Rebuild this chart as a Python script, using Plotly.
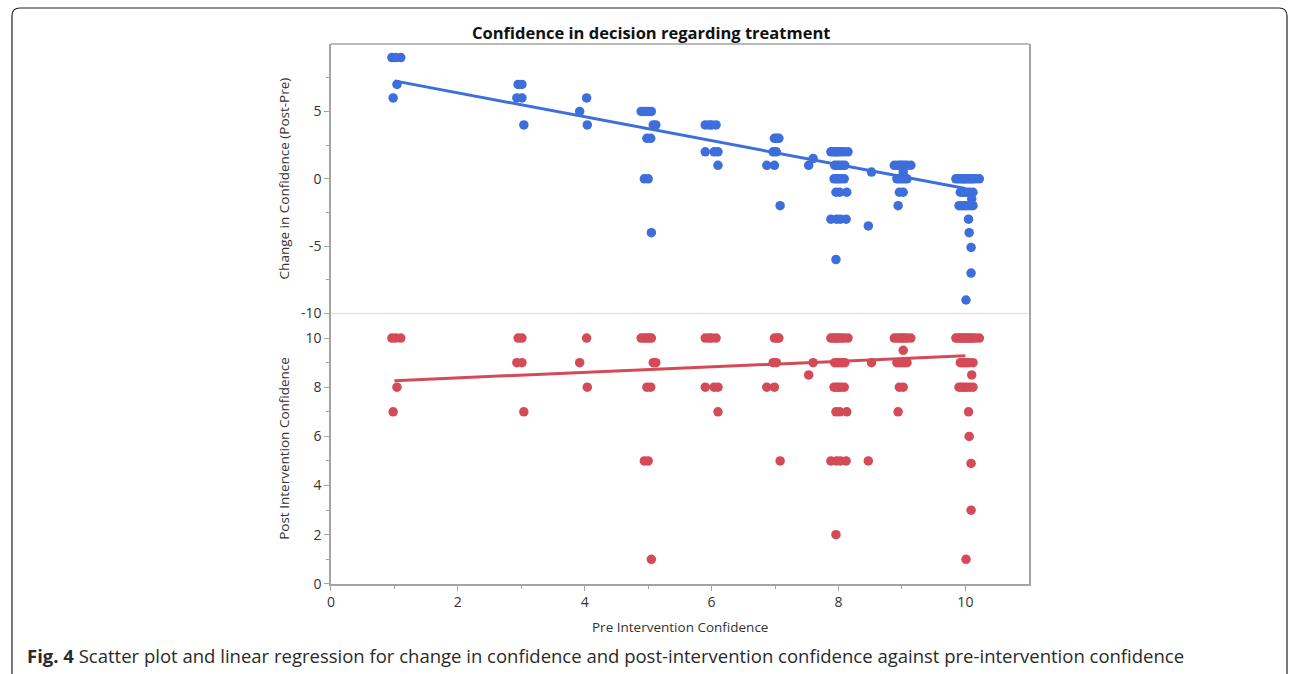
import numpy as np
import plotly.graph_objects as go

# ---- data (one entry per visible marker) ----
pre = ([1]*5 + [3]*5 + [4]*3 + [5]*12 + [6]*8 + [7]*8 + [7.5]*2 +
       [8]*26 + [8.5]*2 + [9]*16 + [10]*30)
post = ([10, 10, 10, 8, 7] +
        [10, 10, 9, 9, 7] +
        [9, 10, 8] +
        [10, 10, 10, 10, 10, 9, 9, 8, 8, 5, 5, 1] +
        [10, 10, 10, 10, 8, 8, 8, 7] +
        [10, 10, 10, 9, 9, 8, 8, 5] +
        [9, 8.5] +
        [10]*8 + [9]*5 + [8]*5 + [7]*3 + [5]*4 + [2] +
        [9, 5] +
        [10]*7 + [9.5] + [9]*5 + [8]*2 + [7] +
        [10]*12 + [9]*6 + [8.5] + [8]*6 + [7, 6, 4.9, 3, 1])
# respondents hidden under each marker (overlapping points in the dense clusters)
count = ([1]*5 + [1]*5 + [1]*3 + [1]*12 + [1]*8 + [1]*8 + [1]*2 +
         [3, 3, 3, 3, 3, 3, 3, 2] + [1]*18 +
         [1]*2 +
         [6, 6, 6, 6, 6, 6, 6] + [1]*9 +
         [3, 3, 3, 3, 3, 3, 3, 3, 3, 3, 3, 4] + [1]*18)
# horizontal display jitter
jitter = ([-0.04, 0.02, 0.10, 0.04, -0.02] +
          [-0.05, 0.01, -0.07, 0.01, 0.04] +
          [-0.08, 0.03, 0.04] +
          [-0.11, -0.07, -0.03, 0.01, 0.05, 0.08, 0.12, -0.02, 0.04, -0.06, 0.0, 0.05] +
          [-0.10, -0.04, 0.0, 0.07, -0.10, 0.04, 0.10, 0.10] +
          [-0.01, 0.03, 0.06, -0.03, 0.02, -0.13, -0.01, 0.08] +
          [0.10, 0.03] +
          [-0.12, -0.08, -0.05, -0.02, 0.01, 0.05, 0.09, 0.15] +
          [-0.06, -0.02, 0.02, 0.06, 0.10] +
          [-0.07, -0.03, 0.0, 0.04, 0.09] +
          [-0.04, 0.02, 0.13] +
          [-0.12, -0.03, 0.03, 0.12] + [-0.04] +
          [0.02, -0.03] +
          [-0.12, -0.07, -0.03, 0.0, 0.04, 0.08, 0.14] + [0.02] +
          [-0.08, -0.04, 0.0, 0.04, 0.08] + [-0.04, 0.02] + [-0.06] +
          [-0.15, -0.11, -0.08, -0.05, -0.02, 0.0, 0.03, 0.06, 0.09, 0.12, 0.16, 0.22] +
          [-0.08, -0.05, -0.02, 0.02, 0.06, 0.12] + [0.10] +
          [-0.10, -0.06, -0.02, 0.02, 0.07, 0.12] + [0.05, 0.06, 0.09, 0.09, 0.01])

x_ticks = [0, 2, 4, 6, 8, 10]
top_ticks = [-10, -5, 0, 5]
top_ticklabels = ["-10", "-5", "0", "5"]
bot_ticks = [0, 2, 4, 6, 8, 10]

title_text = "Confidence in decision regarding treatment"
x_title = "Pre Intervention Confidence"
y_top_title = "Change in Confidence (Post-Pre)"
y_bot_title = "Post Intervention Confidence"
caption = ("<b>Fig. 4</b> Scatter plot and linear regression for change in confidence "
           "and post-intervention confidence against pre-intervention confidence")

pre_a = np.array(pre, dtype=float)
post_a = np.array(post, dtype=float)
cnt = np.array(count, dtype=float)
change_a = post_a - pre_a
x_disp = pre_a + np.array(jitter)

BLUE = "#3E6EDC"
RED = "#D44A57"

fit_x = np.array([pre_a.min(), pre_a.max()])
b_top = np.polyfit(pre_a, change_a, 1, w=np.sqrt(cnt))
b_bot = np.polyfit(pre_a, post_a, 1, w=np.sqrt(cnt))

W, H = 1290, 674
K = 674 / 664.0   # vertical compensation for the capture
def px(x): return x / W
def py(y): return (H - y * K) / H

xdom = [px(328), px(1028)]
top_dom = [py(313), py(44)]
bot_dom = [py(583), py(313)]

fig = go.Figure()
fig.add_trace(go.Scatter(x=x_disp, y=change_a, mode="markers", xaxis="x2", yaxis="y2",
                         marker=dict(color=BLUE, size=9.5), showlegend=False))
fig.add_trace(go.Scatter(x=fit_x, y=np.polyval(b_top, fit_x), mode="lines", xaxis="x2", yaxis="y2",
                         line=dict(color=BLUE, width=3), showlegend=False))
fig.add_trace(go.Scatter(x=x_disp, y=post_a, mode="markers", xaxis="x", yaxis="y",
                         marker=dict(color=RED, size=9.5), showlegend=False))
fig.add_trace(go.Scatter(x=fit_x, y=np.polyval(b_bot, fit_x), mode="lines", xaxis="x", yaxis="y",
                         line=dict(color=RED, width=3), showlegend=False))

AX = "#A3A3A3"
tickfont = dict(family="Open Sans", size=14, color="#333333")
fig.update_layout(
    width=W, height=H, autosize=False,
    margin=dict(l=0, r=0, t=0, b=0),
    paper_bgcolor="white", plot_bgcolor="white",
    xaxis=dict(domain=xdom, anchor="y", range=[0, 11], tickvals=x_ticks,
               ticks="outside", ticklen=5, tickcolor=AX, showline=True, linecolor=AX, linewidth=1.5,
               showgrid=False, zeroline=False, tickfont=tickfont,
               minor=dict(tickvals=[1, 3, 5, 7, 9], ticks="outside", ticklen=3, tickcolor=AX)),
    yaxis=dict(domain=bot_dom, anchor="x", range=[0, 11], tickvals=bot_ticks,
               ticks="outside", ticklen=5, tickcolor=AX, showline=True, linecolor=AX, linewidth=1.5,
               mirror=True, showgrid=False, zeroline=False, tickfont=tickfont,
               minor=dict(tickvals=[1, 3, 5, 7, 9], ticks="outside", ticklen=3, tickcolor=AX)),
    xaxis2=dict(domain=xdom, anchor="y2", range=[0, 11], showticklabels=False, ticks="",
                showline=False, showgrid=False, zeroline=False),
    yaxis2=dict(domain=top_dom, anchor="x2", range=[-10, 10], tickvals=top_ticks,
                ticktext=top_ticklabels,
                ticks="outside", ticklen=5, tickcolor=AX, showline=True, linecolor=AX, linewidth=1.5,
                mirror=True, showgrid=False, zeroline=False, tickfont=tickfont,
                minor=dict(tickvals=[-7.5, -2.5, 2.5, 7.5], ticks="outside", ticklen=3, tickcolor=AX)),
    shapes=[
        dict(type="line", xref="paper", yref="paper", x0=xdom[0], x1=xdom[1], y0=top_dom[1], y1=top_dom[1],
             line=dict(color=AX, width=1.5)),
        dict(type="line", xref="paper", yref="paper", x0=xdom[0], x1=xdom[1], y0=top_dom[0], y1=top_dom[0],
             line=dict(color="#E2E2E2", width=1.5)),
        dict(type="path", xref="paper", yref="paper",
             path=(f"M {px(8)},-0.05 L {px(8)},{py(16)} Q {px(8)},{py(8)} {px(16)},{py(8)} "
                   f"L {px(1279)},{py(8)} Q {px(1287)},{py(8)} {px(1287)},{py(16)} L {px(1287)},-0.05"),
             line=dict(color="#222222", width=1.2)),
    ],
    annotations=[
        dict(text=f"<b>{title_text}</b>", xref="paper", yref="paper", x=px(649), y=py(32),
             xanchor="center", yanchor="middle", showarrow=False,
             font=dict(family="Open Sans", size=16.5, color="#111111")),
        dict(text=y_top_title, xref="paper", yref="paper", x=px(281), y=py(178), textangle=-90,
             xanchor="center", yanchor="middle", showarrow=False,
             font=dict(family="Open Sans", size=13.5, color="#333333")),
        dict(text=y_bot_title, xref="paper", yref="paper", x=px(281), y=py(448), textangle=-90,
             xanchor="center", yanchor="middle", showarrow=False,
             font=dict(family="Open Sans", size=13.5, color="#333333")),
        dict(text=x_title, xref="paper", yref="paper", x=px(678), y=py(626),
             xanchor="center", yanchor="middle", showarrow=False,
             font=dict(family="Open Sans", size=13.5, color="#333333")),
        dict(text=caption, xref="paper", yref="paper", x=px(21), y=py(655),
             xanchor="left", yanchor="middle", showarrow=False,
             font=dict(family="Open Sans", size=18.5, color="#2a2a2a")),
    ],
)

post_js = ("document.body.style.margin='0';document.body.style.overflow='hidden';"
           "document.documentElement.style.overflow='hidden';")
fig.write_html("out.html", config={"displayModeBar": False}, post_script=post_js)
